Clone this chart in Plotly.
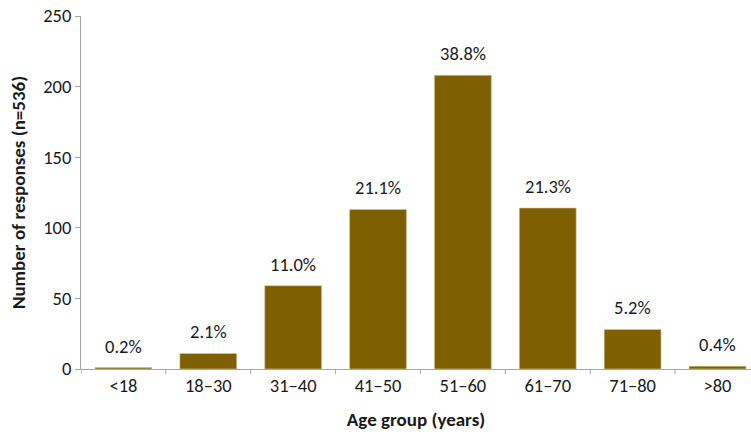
import plotly.graph_objects as go

# Survey responses by age group
age_groups = ["<18", "18–30", "31–40", "41–50", "51–60", "61–70", "71–80", ">80"]
responses = [1, 11, 59, 113, 208, 114, 28, 2]
total = sum(responses)
pct_labels = [f"{100 * r / total:.1f}%" for r in responses]

y_ticks = [0, 50, 100, 150, 200, 250]

FONT = "Calibri, Carlito, Lato, sans-serif"
AXIS_GRAY = "#a6a6a6"
TEXT = "#1a1a1a"
FS = 18.5
FS_TITLE = 19

x_pos = list(range(len(age_groups)))

fig = go.Figure(
    go.Bar(
        x=x_pos,
        y=responses,
        marker=dict(color="#7F6000", line=dict(color="#d9c9a0", width=0.6)),
        hoverinfo="skip",
    )
)

# Percentage labels above each bar
for xi, yi, lab in zip(x_pos, responses, pct_labels):
    fig.add_annotation(
        x=xi, y=yi, text=lab, showarrow=False,
        yanchor="bottom", yshift=8,
        font=dict(family=FONT, size=FS, color=TEXT),
    )

fig.update_layout(
    width=751,
    height=434,
    margin=dict(l=81, r=0, t=16, b=65),
    plot_bgcolor="white",
    paper_bgcolor="white",
    bargap=0.33,
    showlegend=False,
    font=dict(family=FONT, size=FS, color=TEXT),
)

fig.update_xaxes(
    range=[-0.5, 7.395],
    tickmode="array",
    tickvals=x_pos,
    ticktext=age_groups,
    showline=True,
    linecolor=AXIS_GRAY,
    linewidth=1,
    ticks="",
    showgrid=False,
    zeroline=False,
    title=dict(text="<b>Age group (years)</b>", font=dict(family=FONT, size=FS_TITLE), standoff=16),
    tickfont=dict(family=FONT, size=FS),
)

# Boundary ticks between categories along the x axis
for i in range(len(age_groups) + 1):
    fig.add_shape(
        type="line",
        xref="x",
        yref="paper",
        x0=i - 0.5,
        x1=i - 0.5,
        y0=0,
        y1=-0.015,
        line=dict(color=AXIS_GRAY, width=1),
    )

fig.update_yaxes(
    range=[0, 250],
    tickmode="array",
    tickvals=y_ticks,
    showline=True,
    linecolor=AXIS_GRAY,
    linewidth=1,
    ticks="outside",
    ticklen=5,
    tickcolor=AXIS_GRAY,
    showgrid=False,
    zeroline=False,
    title=dict(text="<b>Number of responses (n=536)</b>", font=dict(family=FONT, size=FS_TITLE), standoff=12),
    tickfont=dict(family=FONT, size=FS),
)

fig.write_html("out.html")
